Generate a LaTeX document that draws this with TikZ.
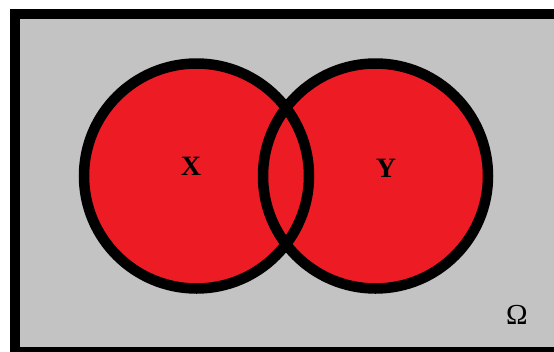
\documentclass[tikz,border=0pt]{standalone}
\usepackage{fontspec}
\setmainfont{Liberation Serif}
\definecolor{paintred}{RGB}{237,28,36}
\definecolor{paintgray}{RGB}{195,195,195}
\tikzset{
  frame/.style={draw=black, line width=10pt, fill=paintgray},
  setfill/.style={fill=paintred, draw=none},
  setline/.style={draw=black, line width=10.5pt},
  setlabel/.style={font=\fontsize{28}{28}\selectfont\bfseries, text=black, inner sep=0pt},
  unilabel/.style={font=\fontsize{29}{29}\selectfont, text=black, inner sep=0pt}
}
\begin{document}
\begin{tikzpicture}[x=1pt, y=-1pt]
\useasboundingbox (0,0) rectangle (554,351);
\clip (0,0) rectangle (554,351);
\fill[white] (0,0) rectangle (554,351);
\draw[frame] (14.5,14) rectangle (575,352);
\coordinate (cx) at (196.5,176);
\coordinate (cy) at (375.5,176);
\fill[setfill] (cx) circle[radius=112.5];
\fill[setfill] (cy) circle[radius=112.5];
\draw[setline] (cx) circle[radius=112.5];
\draw[setline] (cy) circle[radius=112.5];
\node[setlabel] (x) at (191,166) {X};
\node[setlabel] (y) at (386,168) {Y};
\node[unilabel] (omega) at (517,315) {Ω};
\end{tikzpicture}
\end{document}
